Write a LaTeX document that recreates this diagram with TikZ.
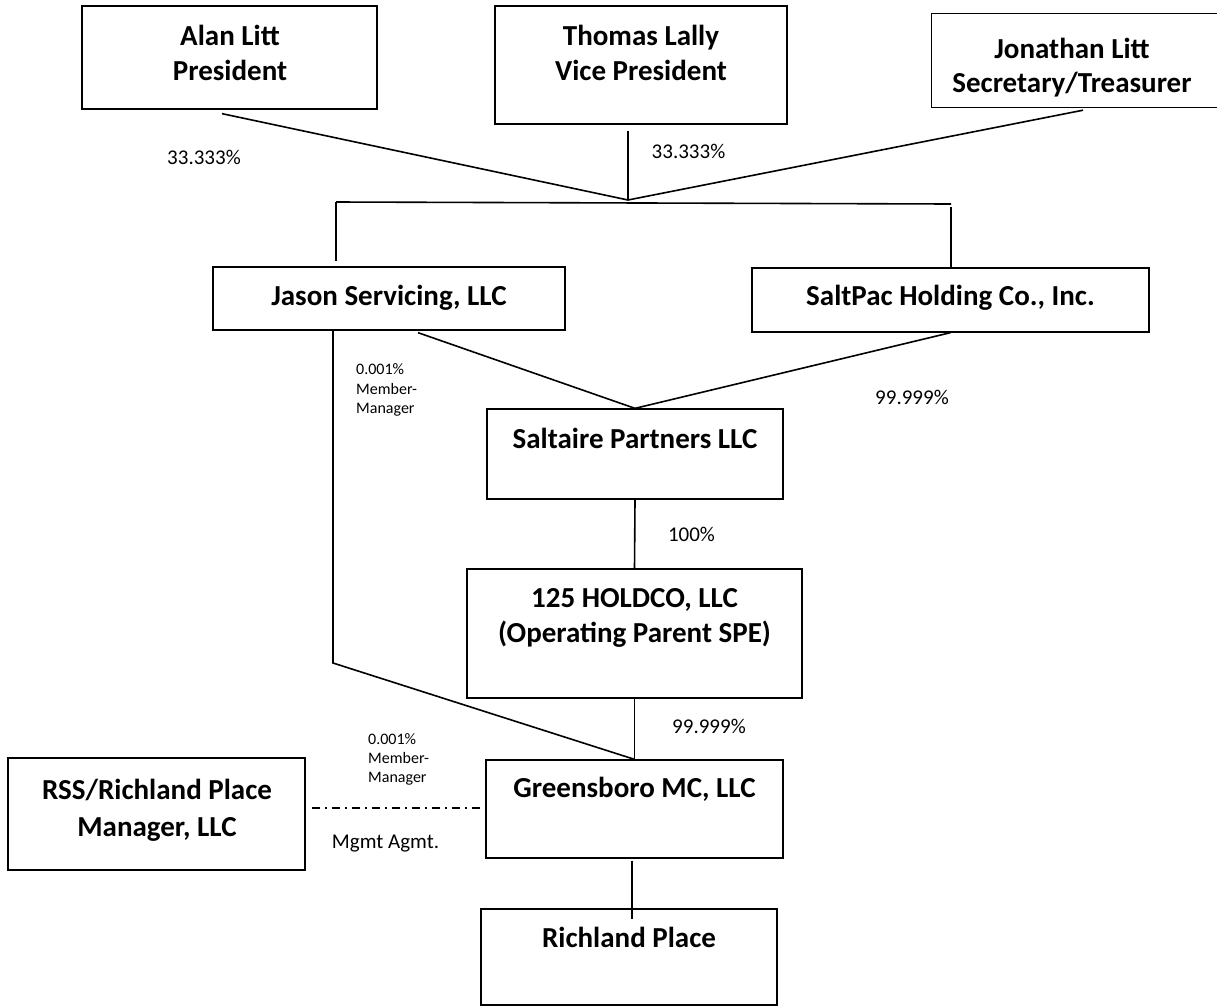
\documentclass[tikz,border=0pt]{standalone}
\usepackage{fontspec}
\setmainfont{Carlito}
\begin{document}
\begin{tikzpicture}[x=1pt,y=-1pt,
  box/.style={draw, line width=1.3pt, rectangle, inner sep=0pt},
  openbox/.style={rectangle, inner sep=0pt},
  ttl/.style={font=\bfseries\fontsize{29}{35}\selectfont, anchor=base, inner sep=0pt},
  pct/.style={font=\fontsize{21}{25}\selectfont, anchor=base, inner sep=0pt},
  small/.style={font=\fontsize{16}{20}\selectfont, anchor=base west, inner sep=0pt},
  conn/.style={line width=1.6pt},
  edge/.style={line width=1.3pt},
  mgmt/.style={line width=1.2pt, dash pattern=on 8pt off 5pt on 2pt off 5pt}]
\useasboundingbox (0,0) rectangle (1217,1007);
\clip (0,0) rectangle (1217,1007);

% boxes
\node[box, minimum width=295pt, minimum height=103pt] (alan) at (229.5,57.5) {};
\node[box, minimum width=292pt, minimum height=118pt] (thomas) at (641,65) {};
\node[openbox, minimum width=290pt, minimum height=93pt] (jon) at (1077,60.5) {};
\draw[edge] (jon.north east) -- (jon.north west) -- (jon.south west) -- (jon.south east);
\node[box, minimum width=352pt, minimum height=63pt] (jason) at (389,298.5) {};
\node[box, minimum width=397pt, minimum height=64pt] (saltpac) at (950.5,300) {};
\node[box, minimum width=296pt, minimum height=90pt] (saltaire) at (635,454) {};
\node[box, minimum width=335pt, minimum height=129pt] (holdco) at (634.5,633.5) {};
\node[box, minimum width=297pt, minimum height=98pt] (green) at (634.5,809) {};
\node[box, minimum width=296pt, minimum height=96pt] (rich) at (629,957) {};
\node[box, minimum width=297pt, minimum height=112pt] (rss) at (156.5,814) {};

% box texts
\node[ttl] (alan1) at (230,45) {Alan Litt};
\node[ttl] (alan2) at (230,80) {President};
\node[ttl] (thomas1) at (641,45) {Thomas Lally};
\node[ttl] (thomas2) at (641,80) {Vice President};
\node[ttl] (jon1) at (1072,58) {Jonathan Litt};
\node[ttl] (jon2) at (1072,92) {Secretary/Treasurer};
\node[ttl] (jasont) at (389,305) {Jason Servicing, LLC};
\node[ttl] (saltpact) at (950.5,305) {SaltPac Holding Co., Inc.};
\node[ttl] (saltairet) at (635,448) {Saltaire Partners LLC};
\node[ttl] (holdco1) at (634.5,607) {125 HOLDCO, LLC};
\node[ttl] (holdco2) at (634.5,642) {(Operating Parent SPE)};
\node[ttl] (greent) at (634.5,797) {Greensboro MC, LLC};
\node[ttl] (richt) at (629,947) {Richland Place};
\node[ttl] (rss1) at (157,799) {RSS/Richland Place};
\node[ttl] (rss2) at (157,836) {Manager, LLC};

% coordinates
\coordinate (apex) at (628,200);
\coordinate (barL) at (336,202);
\coordinate (barR) at (951,204);
\coordinate (jdown) at (333,663);

% connectors
\draw[conn] ([xshift=-7.5pt,yshift=-4pt]alan.south) -- (apex);
\draw[conn] ([xshift=-13pt,yshift=-6pt]thomas.south) -- (apex);
\draw[conn] ([xshift=6pt,yshift=-3pt]jon.south) -- (apex);
\draw[conn] (barL) -- (barR);
\draw[conn, shorten >=5pt] (barL) -- (barL |- jason.north);
\draw[conn, shorten <=3pt] (barR) -- (barR |- saltpac.north);
\draw[conn] ([xshift=29pt,yshift=-2pt]jason.south) -- (saltaire.north);
\draw[conn] (saltpac.south) -- (saltaire.north);
\draw[conn] (saltaire.south) -- (holdco.north);
\draw[conn] (jason.south -| jdown) -- (jdown) -- (green.north);
\draw[conn] (holdco.south) -- (green.north);
\draw[conn] ([xshift=-2.5pt,yshift=-2pt]green.south) -- ([xshift=3pt,yshift=-11pt]rich.north);
\draw[mgmt] ([xshift=6pt,yshift=6pt]rss.east) -- ([xshift=-5pt,yshift=1pt]green.west);

% labels
\node[pct] (p1) at (204,164) {33.333\%};
\node[pct] (p2) at (688.5,158) {33.333\%};
\node[pct] (p3) at (912,404) {99.999\%};
\node[pct] (p4) at (691.5,541) {100\%};
\node[pct] (p5) at (709,733) {99.999\%};
\node[pct] (p6) at (385.5,848) {Mgmt Agmt.};
\node[small] (s1) at (356,374) {0.001\%};
\node[small] (s2) at (356,394) {Member-};
\node[small] (s3) at (356,413) {Manager};
\node[small] (s4) at (368,744) {0.001\%};
\node[small] (s5) at (368,763) {Member-};
\node[small] (s6) at (368,782) {Manager};
\end{tikzpicture}
\end{document}
